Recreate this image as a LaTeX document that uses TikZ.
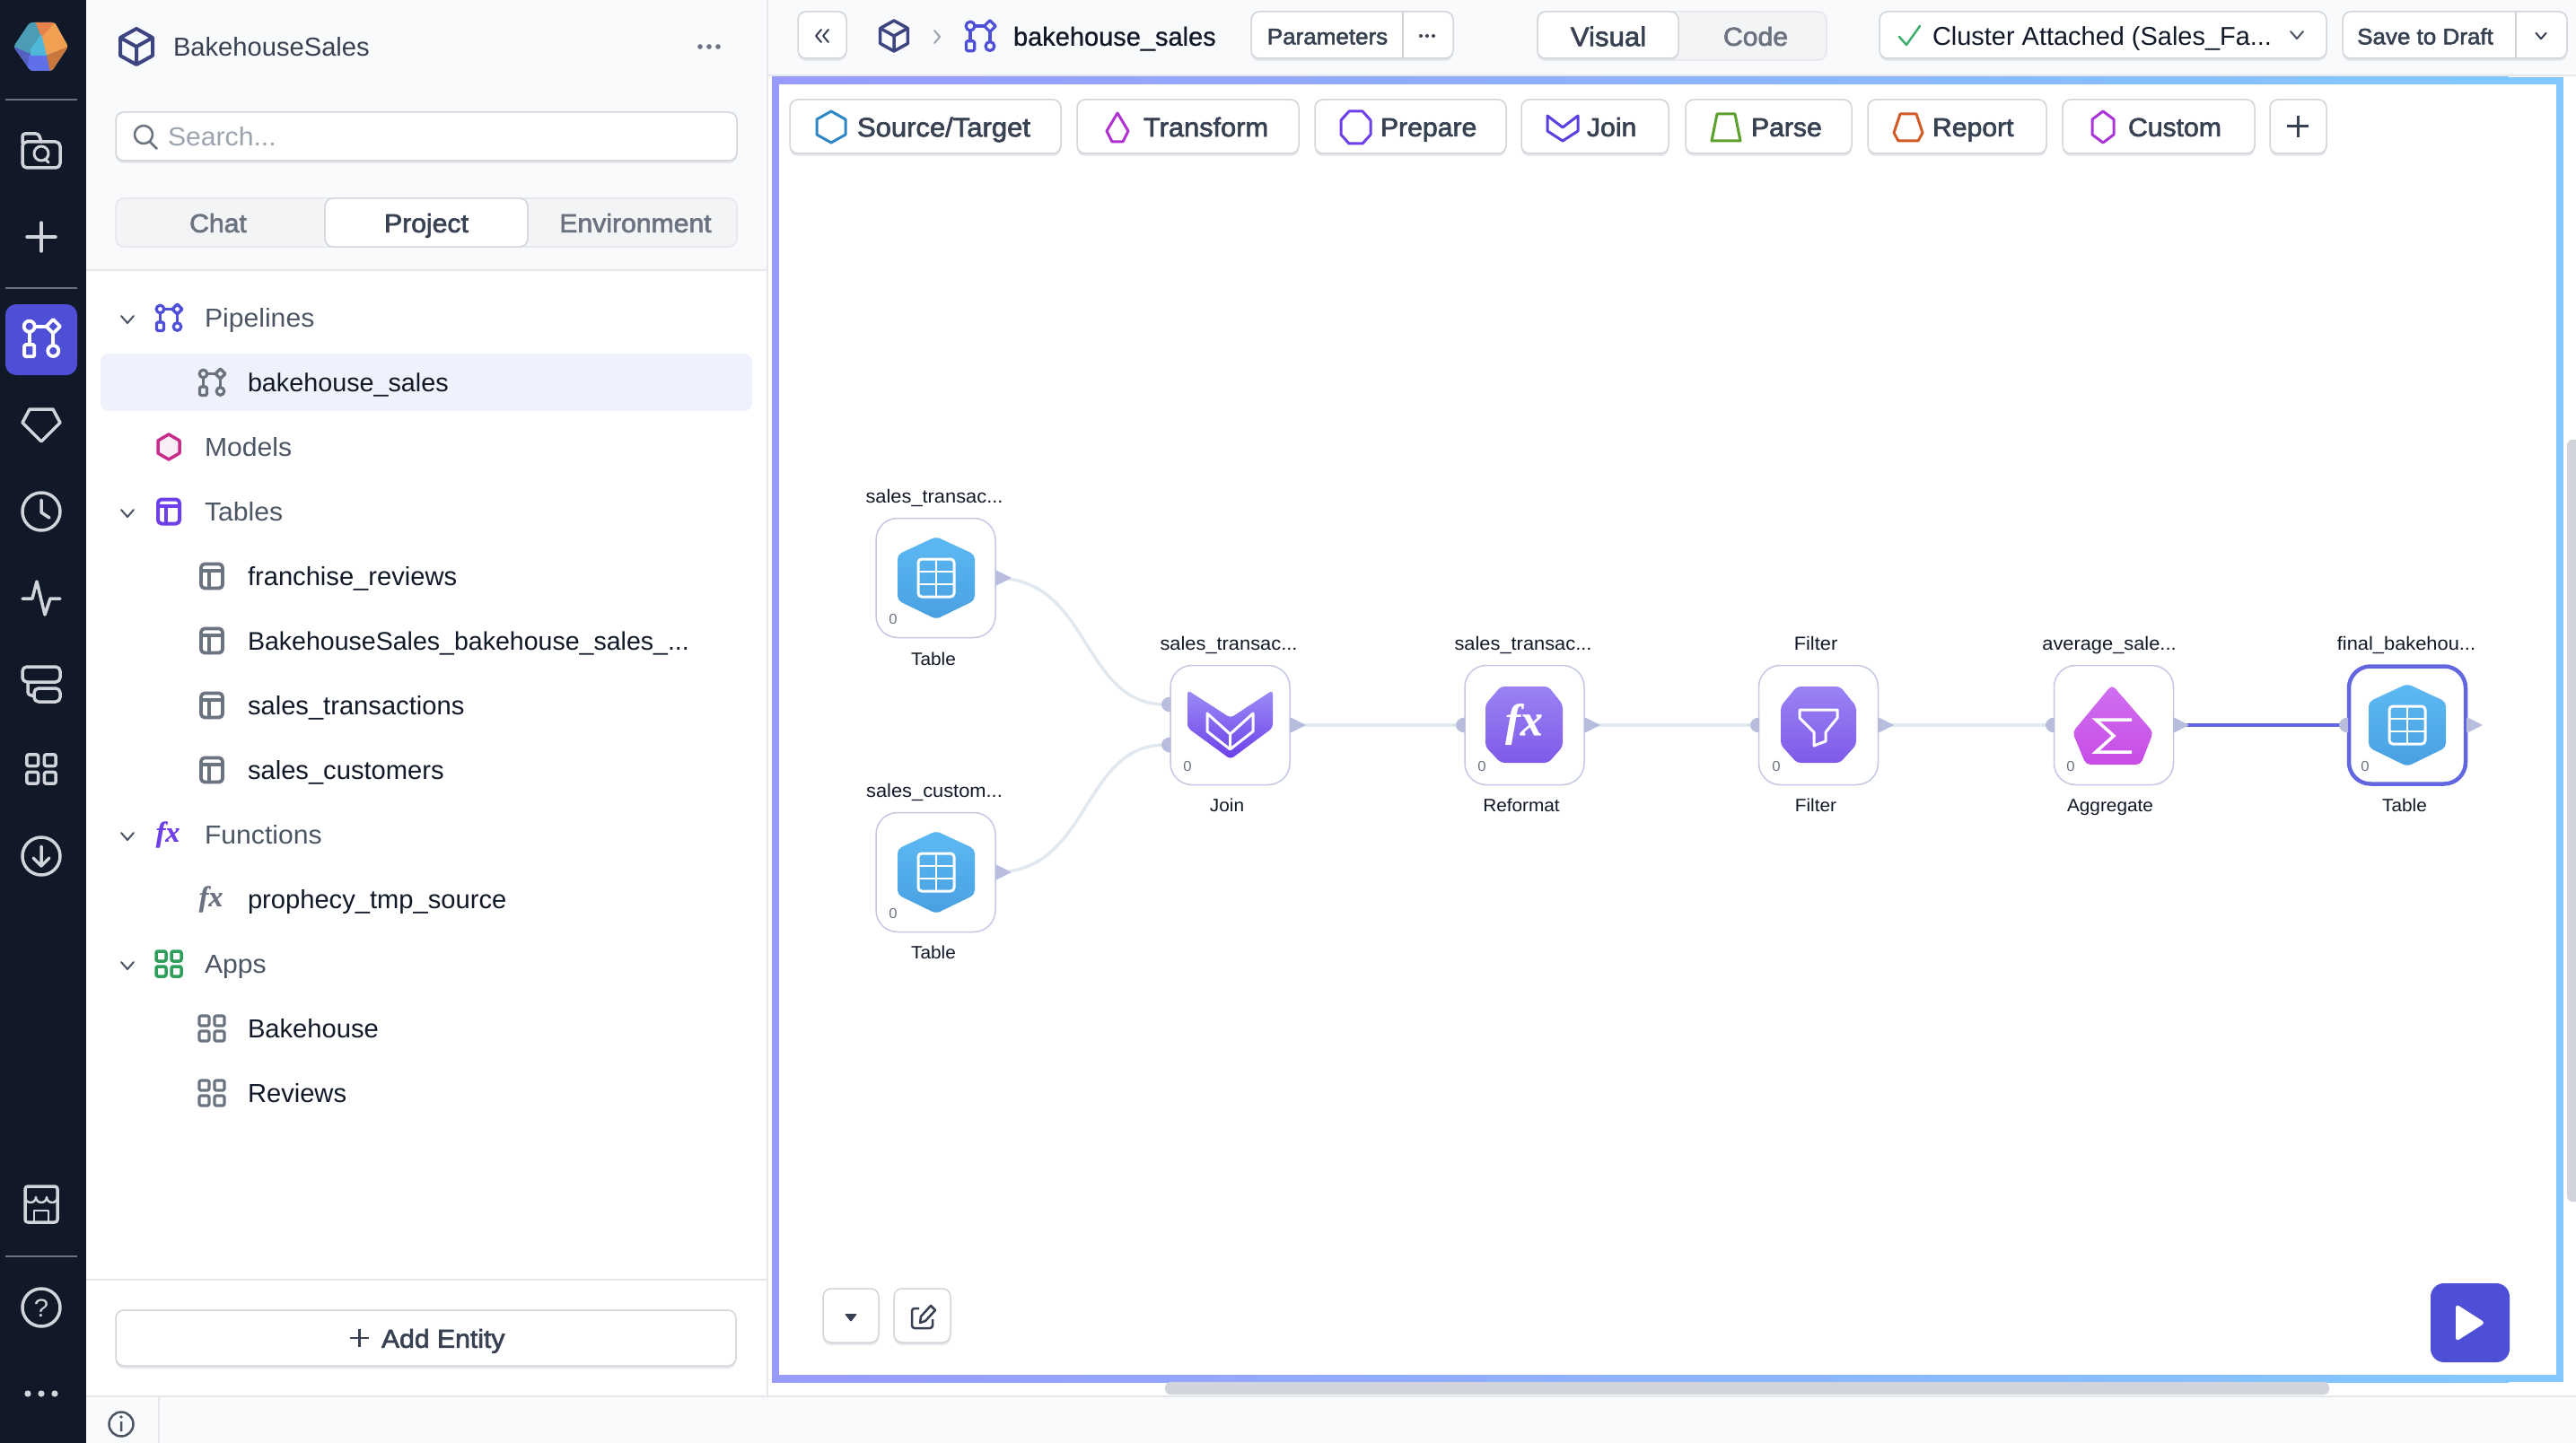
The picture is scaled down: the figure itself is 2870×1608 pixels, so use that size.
\documentclass[tikz,border=0pt]{standalone}
\usepackage{fontspec}
\setmainfont[FakeStretch=1.04]{Liberation Sans}
\newfontfamily\itemf[FakeStretch=1.005]{Liberation Sans}
\newfontfamily\itemb[FakeBold=0.8,FakeStretch=1.0]{Liberation Sans}
\newfontfamily\medf[FakeBold=2.2,FakeStretch=1.04]{Liberation Sans}
\newfontfamily\fxf[FakeBold=0.4]{Liberation Serif}
\usetikzlibrary{calc}
\newcommand{\hexc}[1]{\definecolor{#1}{HTML}{#1}}
\hexc{A08CF9}\hexc{82C8FF}\hexc{4A9DB5}\hexc{E8824A}\hexc{F0A050}\hexc{4FB8D8}\hexc{5560C0}\hexc{6070E8}\hexc{C8783C}
\hexc{9CA3AF}\hexc{F3F4F6}\hexc{EFF2FD}\hexc{C72E8C}\hexc{F9EEF6}\hexc{6D3FE8}\hexc{2E9E5B}\hexc{3DAE6B}\hexc{2F86C4}
\hexc{B030D0}\hexc{5B3FE0}\hexc{5EA02E}\hexc{D05A2A}\hexc{A835D8}\hexc{5DB9F3}\hexc{49A0E1}\hexc{9D8CF6}\hexc{6A3FE8}
\hexc{9A82F4}\hexc{7F5AE8}\hexc{D070F0}\hexc{C74CE6}
\definecolor{ink}{HTML}{111827}
\definecolor{slate}{HTML}{374151}
\definecolor{greytx}{HTML}{4B5563}
\definecolor{mutetx}{HTML}{6B7280}
\definecolor{line}{HTML}{D1D5DB}
\definecolor{hair}{HTML}{E5E7EB}
\definecolor{paper}{HTML}{F9FAFB}
\definecolor{dark}{HTML}{111827}
\definecolor{indigo}{HTML}{4F4ED6}
\definecolor{navy}{HTML}{3D4580}
\definecolor{portc}{HTML}{B8BDDD}
\definecolor{edgec}{HTML}{E2E8F0}
\definecolor{nodeline}{HTML}{C4C8E4}
\definecolor{hilite}{HTML}{6366E1}
\definecolor{sideic}{HTML}{D1D5DB}
\tikzset{
  tx/.style={inner sep=0pt,outer sep=0pt,text height=.95*#1 pt,text depth=.2*#1 pt,font=\fontsize{#1}{#1}\selectfont},
  ix/.style={inner sep=0pt,outer sep=0pt,text height=.95*#1 pt,text depth=.2*#1 pt,font=\fontsize{#1}{#1}\selectfont\itemf},
  bx/.style={inner sep=0pt,outer sep=0pt,text height=.95*#1 pt,text depth=.2*#1 pt,font=\fontsize{#1}{#1}\selectfont\itemb},
  mx/.style={inner sep=0pt,outer sep=0pt,text height=.95*#1 pt,text depth=.2*#1 pt,font=\fontsize{#1}{#1}\selectfont\medf},
  btnbody/.style={draw=line,line width=1.5pt,fill=white,rounded corners=9pt,inner sep=0pt,outer sep=0pt},
  nodebox/.style={draw=nodeline,line width=1.5pt,fill=white,rounded corners=24pt,inner sep=0pt,outer sep=0pt,minimum width=133pt,minimum height=133pt},
  edgeln/.style={draw=edgec,line width=3.5pt},
  sideln/.style={draw=sideic,line width=3.5pt,line cap=round,line join=round},
  iconln/.style={line width=3.2pt,line cap=round,line join=round},
  tool/.style={line width=3pt,line join=round,fill=white},
  pics/pipemark/.style={code={
    \draw[iconln,#1] (-9.5,-9.5) circle (4.3) (9.5,-15) -- (15,-9.5) -- (9.5,-4) -- (4,-9.5) -- cycle;
    \draw[iconln,#1,rounded corners=1.5pt] (-13.5,5) rectangle (-5.5,14.5);
    \draw[iconln,#1] (9.5,10) circle (4.3);
    \draw[iconln,#1] (-5,-9.5) -- (4,-9.5) (-9.5,-5) -- (-9.5,5) (9.5,-4) -- (9.5,5.5);
  }},
  pics/cubemark/.style={code={
    \draw[line join=round,#1] (0,-20) -- (18,-10) -- (18,10) -- (0,20) -- (-18,10) -- (-18,-10) -- cycle;
    \draw[line join=round,#1] (-18,-10) -- (0,0) -- (18,-10) (0,0) -- (0,20);
  }},
  pics/tablemark/.style={code={
    \draw[iconln,#1,rounded corners=4pt] (-12,-13.5) rectangle (12,13.5);
    \draw[iconln,#1] (-12,-6) -- (12,-6) (-3,-6) -- (-3,13.5);
  }},
  pics/appsmark/.style={code={
    \foreach \u in {-8.5,8.5}{\foreach \v in {-8.5,8.5}{
      \draw[iconln,#1,rounded corners=2pt] (\u-5.5,\v-5.5) rectangle (\u+5.5,\v+5.5);}}
  }},
  pics/chev/.style={code={\draw[line width=2pt,line cap=round,line join=round,#1] (-7,-4) -- (0,4) -- (7,-4);}},
  pics/tablehex/.style={code={
    \shade[top color=5DB9F3,bottom color=49A0E1,rounded corners=5pt] (0,-46) -- (43,-26) -- (43,25) -- (0,46) -- (-43,25) -- (-43,-26) -- cycle;
    \draw[white,line width=3pt,rounded corners=4pt] (-20,-21) rectangle (20,21);
    \draw[white,line width=2.5pt] (-20,-7) -- (20,-7) (-20,7) -- (20,7) (0,-21) -- (0,21);
  }},
}
\newcommand{\btnat}[6][btnbody]{%
  \fill[hair,rounded corners=9pt] (#3,#4+3) rectangle (#5,#6+3);
  \node[#1,minimum width={(#5-(#3))*1pt},minimum height={(#6-(#4))*1pt}] (#2) at ({(#3+#5)/2},{(#4+#6)/2}) {};}
\newcommand{\dotrow}[4]{\foreach \k in {-1,0,1}{\fill[#1] ({#2+\k*#4},#3) circle (2.8);}}
\begin{document}
\begin{tikzpicture}[x=1pt,y=-1pt]
\useasboundingbox (0,0) rectangle (2870,1608);
\fill[white] (0,0) rectangle (2870,1608);
% ---- top bar, panel header, status bar
\fill[paper] (855,0) rectangle (2870,84);
\draw[hair,line width=2pt] (855,84) -- (2870,84);
\fill[paper] (96,0) rectangle (855,300);
\draw[hair,line width=2pt] (96,301) -- (855,301);
\fill[paper] (96,1556) rectangle (2870,1608);
\draw[hair,line width=2pt] (96,1556) -- (2870,1556);
\draw[hair,line width=2pt] (177,1556) -- (177,1608);
\draw[hair,line width=2pt] (855,0) -- (855,1556);
\draw[hair,line width=2pt] (96,1426) -- (855,1426);
% ---- canvas frame
\begin{scope}
\clip (860,86) rectangle (2856,1540);
\shade[left color=A08CF9,right color=82C8FF] (215,86) rectangle (2795,1540);
\fill[82C8FF] (2790,86) rectangle (2856,1540);
\end{scope}
\fill[white] (868,94) rectangle (2848,1532);
% ---- scrollbars
\fill[line,rounded corners=6pt] (1298,1540) rectangle (2595,1554);
\fill[line,rounded corners=6pt] (2860,490) rectangle (2876,1339);
% ---- dark rail
\fill[dark] (0,0) rectangle (96,1608);
\clip (0,0) rectangle (2870,1608);
% logo
\begin{scope}
\clip[rounded corners=3pt] (33,25) -- (61,25) -- (76,52) -- (58,79) -- (34,79) -- (15,52) -- cycle;
\fill[4A9DB5] (10,20) rectangle (80,85);
\fill[E8824A] (33,20) -- (62,20) -- (62,28) -- (47,44) -- (40,26) -- cycle;
\fill[F0A050] (46,42) -- (62,24) -- (80,52) -- (50,62) -- cycle;
\fill[4FB8D8] (34,55) -- (46,38) -- (52,62) -- (50,66) -- (34,62) -- cycle;
\fill[5560C0] (10,50) -- (34,60) -- (32,85) -- (20,85) -- cycle;
\fill[6070E8] (32,62) -- (52,62) -- (58,85) -- (30,85) -- cycle;
\fill[C8783C] (52,62) -- (80,50) -- (70,85) -- (57,85) -- cycle;
\end{scope}
\draw[mutetx,line width=2pt] (6,111) -- (86,111) (6,321) -- (86,321) (6,1400) -- (86,1400);
% folder-search
\draw[sideln,rounded corners=5pt] (25,158) rectangle (67,187);
\draw[sideln,rounded corners=3pt] (25,160) -- (25,149) -- (43,149) -- (46,158);
\draw[sideln,line width=3pt] (46,171) circle (8) (50,177) -- (54,181);
% plus
\draw[sideln] (30,264) -- (62,264) (46,248) -- (46,280);
% active pipelines
\fill[indigo,rounded corners=12pt] (6,339) rectangle (86,418);
\pic[scale=1.4] at (46,377) {pipemark={draw=white,line width=3.8pt}};
% gem
\draw[sideln] (33,456) -- (59,456) -- (67,471) -- (46,492) -- (25,471) -- cycle;
% clock
\draw[sideln] (46,570) circle (21) (46,557) -- (46,571) -- (55,577);
% activity
\draw[sideln] (25,667) -- (36,667) -- (41,648) -- (50,685) -- (56,667) -- (67,667);
% display
\draw[sideln,rounded corners=5pt] (25,743) rectangle (67,760);
\draw[sideln,rounded corners=5pt] (38,767) rectangle (67,782);
\draw[sideln,rounded corners=4pt] (31,760) -- (31,775) -- (38,775);
% grid
\pic[scale=1.15] at (46,857) {appsmark={draw=sideic,line width=3.5pt}};
% download
\draw[sideln] (46,954) circle (21) (46,943) -- (46,965) (37,956) -- (46,965) -- (55,956);
% store
\draw[sideln,rounded corners=3pt] (28,1322) rectangle (64,1362);
\draw[sideln,line width=2.5pt] (28,1334) arc[start angle=180,end angle=0,radius=6] arc[start angle=180,end angle=0,radius=6] arc[start angle=180,end angle=0,radius=6];
\draw[sideln,line width=2.5pt] (38,1362) -- (38,1349) -- (54,1349) -- (54,1362);
% help
\draw[sideln] (46,1457) circle (21);
\node[tx=28,text=sideic] (helpq) at (46,1457) {?};
\foreach \k in {-1,0,1}{\fill[sideic] ({46+\k*15},1553) circle (3.6);}
% ---- panel header
\pic at (152,52) {cubemark={draw=navy,line width=4pt}};
\node[ix=29,anchor=west,text=slate] (projname) at (193,52) {BakehouseSales};
\dotrow{mutetx}{790}{52}{10}
\btnat{searchbox}{129}{125}{821}{179}
\draw[mutetx,line width=2.5pt] (160,150) circle (10) (167,158) -- (175,166);
\node[tx=29,anchor=west,text=9CA3AF] (searchtx) at (187,152) {Search...};
\node[draw=hair,line width=1.5pt,fill=F3F4F6,rounded corners=9pt,minimum width=692pt,minimum height=54pt,inner sep=0pt,outer sep=0pt] (tabs) at (475,248) {};
\node[draw=line,line width=1.5pt,fill=white,rounded corners=9pt,minimum width=226pt,minimum height=54pt,inner sep=0pt,outer sep=0pt] (tabproject) at (475,248) {};
\node[mx=29,text=mutetx] (chat) at (243,248) {Chat};
\node[mx=29,text=slate] (project) at (475,248) {Project};
\node[mx=29,text=mutetx] (env) at (708,248) {Environment};
% ---- tree
\fill[EFF2FD,rounded corners=9pt] (112,394) rectangle (838,458);
\pic at (142,356) {chev={draw=greytx}};
\pic at (142,572) {chev={draw=greytx}};
\pic at (142,932) {chev={draw=greytx}};
\pic at (142,1076) {chev={draw=greytx}};
\pic at (188,354) {pipemark={draw=indigo}};
\pic at (236,426) {pipemark={draw=mutetx}};
\draw[draw=C72E8C,fill=F9EEF6,line width=3.5pt,line join=round] (188,484) -- (200,491) -- (200,505) -- (188,512) -- (176,505) -- (176,491) -- cycle;
\pic at (188,570) {tablemark={draw=6D3FE8,line width=4pt}};
\pic at (236,642) {tablemark={draw=mutetx,line width=3.8pt}};
\pic at (236,714) {tablemark={draw=mutetx,line width=3.8pt}};
\pic at (236,786) {tablemark={draw=mutetx,line width=3.8pt}};
\pic at (236,858) {tablemark={draw=mutetx,line width=3.8pt}};
\pic at (188,1074) {appsmark={draw=2E9E5B,line width=3.5pt}};
\pic at (236,1146) {appsmark={draw=mutetx}};
\pic at (236,1218) {appsmark={draw=mutetx}};
\node[text=6D3FE8,inner sep=0pt,font=\fontsize{32}{32}\selectfont\fxf\bfseries\itshape] (fxa) at (187,930) {fx};
\node[text=mutetx,inner sep=0pt,font=\fontsize{32}{32}\selectfont\fxf\bfseries\itshape] (fxb) at (235,1002) {fx};
\node[tx=29,anchor=west,text=greytx] (tpipe) at (228,354) {Pipelines};
\node[ix=28.6,anchor=west,text=ink] (tbs) at (276,426) {bakehouse\_sales};
\node[tx=29,anchor=west,text=greytx] (tmodels) at (228,498) {Models};
\node[tx=29,anchor=west,text=greytx] (ttables) at (228,570) {Tables};
\node[ix=29,anchor=west,text=ink] (tfr) at (276,642) {franchise\_reviews};
\node[ix=28.4,anchor=west,text=ink] (tbb) at (276,714) {BakehouseSales\_bakehouse\_sales\_...};
\node[ix=29,anchor=west,text=ink] (tst) at (276,786) {sales\_transactions};
\node[ix=29,anchor=west,text=ink] (tsc) at (276,858) {sales\_customers};
\node[tx=29,anchor=west,text=greytx] (tfun) at (228,930) {Functions};
\node[ix=29,anchor=west,text=ink] (tpts) at (276,1002) {prophecy\_tmp\_source};
\node[tx=29,anchor=west,text=greytx] (tapps) at (228,1074) {Apps};
\node[ix=29,anchor=west,text=ink] (tbk) at (276,1146) {Bakehouse};
\node[ix=29,anchor=west,text=ink] (trv) at (276,1218) {Reviews};
% add entity
\btnat{addbox}{129}{1460}{820}{1522}
\draw[slate,line width=2.5pt] (390,1491) -- (411,1491) (400.5,1481) -- (400.5,1501);
\node[mx=29,anchor=west,text=slate] (addtx) at (425,1491) {Add Entity};
% info
\draw[greytx,line width=2.5pt] (135,1587) circle (13.5) (135,1584) -- (135,1595);
\fill[greytx] (135,1579) circle (1.8);
% ---- top bar content
\btnat{backbtn}{889}{13}{943}{65}
\draw[slate,line width=2pt,line cap=round,line join=round] (915,33) -- (909,40) -- (915,47) (923,33) -- (917,40) -- (923,47);
\pic[scale=.85] at (996,40) {cubemark={draw=navy,line width=3.5pt}};
\draw[9CA3AF,line width=2pt,line cap=round,line join=round] (1041,34) -- (1047,41) -- (1041,48);
\pic[scale=1.15] at (1092,40) {pipemark={draw=indigo}};
\node[bx=29,anchor=west,text=ink] (crumb) at (1129,40) {bakehouse\_sales};
\btnat{parambtn}{1394}{13}{1619}{65}
\draw[line,line width=1.5pt] (1563,13) -- (1563,65);
\node[mx=25,text=slate] (paramtx) at (1479,40) {Parameters};
\foreach \k in {-1,0,1}{\fill[slate] ({1590+\k*7},40) circle (2);}
\node[draw=hair,line width=1.5pt,fill=F3F4F6,rounded corners=9pt,minimum width=322pt,minimum height=54pt,inner sep=0pt,outer sep=0pt] (segbar) at (1874,40) {};
\btnat{visualbtn}{1713}{13}{1870}{65}
\node[mx=30,text=slate] (visualtx) at (1792,40) {Visual};
\node[mx=29,text=mutetx] (codetx) at (1956,40) {Code};
\btnat{clusterbtn}{2094}{13}{2592}{65}
\draw[3DAE6B,line width=2.5pt,line cap=round,line join=round] (2116,41) -- (2124,50) -- (2139,29);
\node[ix=28.8,anchor=west,text=ink] (clustertx) at (2153,40) {Cluster Attached (Sales\_Fa...};
\pic at (2559,39) {chev={draw=greytx}};
\btnat{savebtn}{2610}{13}{2860}{65}
\draw[line,line width=1.5pt] (2803,13) -- (2803,65);
\node[mx=25,text=slate] (savetx) at (2702,40) {Save to Draft};
\pic[scale=.8] at (2831,40) {chev={draw=slate}};
% ---- palette
\btnat{psrc}{880}{111}{1182}{171}
\draw[tool,draw=2F86C4] (926,124) -- (942,133) -- (942,150) -- (926,159) -- (910,150) -- (910,133) -- cycle;
\node[mx=29.8,anchor=west,text=slate] (psrctx) at (955,141) {Source/Target};
\btnat{ptrn}{1200}{111}{1447}{171}
\draw[tool,draw=B030D0] (1245,126) -- (1257,146) -- (1251,158) -- (1239,158) -- (1233,146) -- cycle;
\node[mx=29.6,anchor=west,text=slate] (ptrntx) at (1274,141) {Transform};
\btnat{pprp}{1465}{111}{1678}{171}
\draw[tool,draw=6D3FE8] (1503,124) -- (1518,124) -- (1527,134) -- (1527,150) -- (1518,160) -- (1503,160) -- (1494,150) -- (1494,134) -- cycle;
\node[mx=29,anchor=west,text=slate] (pprptx) at (1538,141) {Prepare};
\btnat{pjoin}{1695}{111}{1859}{171}
\draw[tool,draw=5B3FE0] (1724,129) -- (1741,142) -- (1758,129) -- (1758,146) -- (1741,157) -- (1724,146) -- cycle;
\node[mx=29,anchor=west,text=slate] (pjointx) at (1768,141) {Join};
\btnat{ppar}{1878}{111}{2063}{171}
\draw[tool,draw=5EA02E] (1913,127) -- (1933,127) -- (1939,157) -- (1907,157) -- cycle;
\node[mx=29,anchor=west,text=slate] (ppartx) at (1951,141) {Parse};
\btnat{prep}{2081}{111}{2280}{171}
\draw[tool,draw=D05A2A] (2117,127) -- (2135,127) -- (2142,148) -- (2137,157) -- (2115,157) -- (2110,148) -- cycle;
\node[mx=29,anchor=west,text=slate] (preptx) at (2153,141) {Report};
\btnat{pcus}{2298}{111}{2512}{171}
\draw[tool,draw=A835D8] (2343,124) -- (2355,133) -- (2355,150) -- (2343,159) -- (2331,150) -- (2331,133) -- cycle;
\node[mx=29,anchor=west,text=slate] (pcustx) at (2371,141) {Custom};
\btnat{pplus}{2529}{111}{2592}{171}
\draw[slate,line width=3pt] (2548,141) -- (2572,141) (2560,129) -- (2560,153);
% ---- canvas buttons
\btnat{downbtn}{917}{1436}{979}{1496}
\fill[slate,rounded corners=1pt] (941,1464) -- (955,1464) -- (948,1473) -- cycle;
\btnat{editbtn}{996}{1436}{1059}{1496}
\draw[slate,line width=2.5pt,rounded corners=3pt] (1024,1458) -- (1016,1458) -- (1016,1480) -- (1039,1480) -- (1039,1470);
\draw[slate,line width=2.5pt,line join=round] (1025,1474) -- (1026,1467) -- (1037,1455) -- (1042,1460) -- (1031,1472) -- cycle;
\fill[indigo,rounded corners=15pt] (2708,1430) rectangle (2796,1518);
\fill[white,rounded corners=4pt] (2736,1453) -- (2769,1474) -- (2736,1495) -- cycle;
% ---- pipeline nodes
\node[nodebox] (t1) at (1042.5,644) {};
\node[nodebox] (t2) at (1042.5,972) {};
\node[nodebox] (join) at (1370.5,808) {};
\node[nodebox] (refm) at (1698.5,808) {};
\node[nodebox] (filt) at (2026,808) {};
\node[nodebox] (aggr) at (2355,808) {};
\node[nodebox,draw=hilite,line width=4.5pt,minimum width=130pt,minimum height=131pt] (tout) at (2682,808) {};
% connectors
\coordinate (jin1) at (1298,785);
\coordinate (jin2) at (1298,830);
\draw[edgeln] (t1.east) .. controls (1215,644) and (1205,785) .. (jin1);
\draw[edgeln] (t2.east) .. controls (1215,972) and (1205,830) .. (jin2);
\draw[edgeln] (join.east) -- (refm.west);
\draw[edgeln] (refm.east) -- (filt.west);
\draw[edgeln] (filt.east) -- (aggr.west);
\draw[hilite,line width=3.5pt] (aggr.east) -- (tout.west);
% ports
\foreach \px/\py in {1109/644,1109/972,1437/808,1765/808,2092/808,2421/808,2748/808}{
  \fill[portc,rounded corners=1pt] (\px,\py-9) -- (\px+18,\py) -- (\px,\py+9) -- cycle;}
\foreach \px/\py in {1304/785,1304/830,1632/808,1960/808,2289/808,2616/808}{
  \fill[portc] (\px,\py+8.5) arc[start angle=90,end angle=270,x radius=10,y radius=8.5] -- cycle;}
% node glyphs
\pic at (1043,644) {tablehex};
\pic at (1043,972) {tablehex};
\pic at (2682,808) {tablehex};
\shade[top color=9D8CF6,bottom color=6A3FE8,rounded corners=4pt] (1323,769) -- (1371,800) -- (1418,769) -- (1418,811) -- (1371,846) -- (1323,811) -- cycle;
\draw[white,line width=3pt,line join=round] (1345,795) -- (1370.5,818) -- (1396,795) -- (1396,815) -- (1370.5,835) -- (1345,815) -- cycle (1370.5,818) -- (1370.5,835);
\shade[top color=9A82F4,bottom color=7F5AE8,rounded corners=4pt] (1672,765) -- (1725,765) -- (1741,785) -- (1741,832) -- (1725,850) -- (1672,850) -- (1655,832) -- (1655,785) -- cycle;
\node[text=white,inner sep=0pt,font=\fontsize{50}{50}\selectfont\fxf\bfseries\itshape] (fxc) at (1698,807) {fx};
\shade[top color=9A82F4,bottom color=7F5AE8,rounded corners=4pt] (2002,765) -- (2050,765) -- (2068,787) -- (2068,830) -- (2050,850) -- (2002,850) -- (1984,830) -- (1984,787) -- cycle;
\draw[white,line width=3pt,line join=round] (2005,791) -- (2047,791) -- (2047,800) -- (2034,816) -- (2034,826) -- (2021,831) -- (2021,816) -- (2005,800) -- cycle;
\shade[top color=D070F0,bottom color=C74CE6,rounded corners=5pt] (2353,763) -- (2399,816) -- (2385,852) -- (2324,852) -- (2309,816) -- cycle;
\draw[white,line width=3.5pt,line join=miter] (2375,802) -- (2335,802) -- (2355,820) -- (2335,838) -- (2375,838);
% zero counts
\foreach \zn/\zx/\zy in {za/995/689,zb/995/1017,zc/1323/853,zd/1651/853,ze/1979/853,zf/2307/853,zg/2635/853}{
  \node[tx=16,text=mutetx] (\zn) at (\zx,\zy) {0};}
% node titles and labels
\node[tx=21,text=ink] (lt1) at (1041,553) {sales\_transac...};
\node[tx=21,text=ink] (lt2) at (1041,881) {sales\_custom...};
\node[tx=21,text=ink] (ljn) at (1369,717) {sales\_transac...};
\node[tx=21,text=ink] (lrf) at (1697,717) {sales\_transac...};
\node[tx=21,text=ink] (lfl) at (2023,717) {Filter};
\node[tx=21,text=ink] (lag) at (2350,717) {average\_sale...};
\node[tx=21,text=ink] (lto) at (2681,717) {final\_bakehou...};
\node[tx=20,text=ink] (bt1) at (1040,734) {Table};
\node[tx=20,text=ink] (bt2) at (1040,1061) {Table};
\node[tx=20,text=ink] (bjn) at (1367,897) {Join};
\node[tx=20,text=ink] (brf) at (1695,897) {Reformat};
\node[tx=20,text=ink] (bfl) at (2023,897) {Filter};
\node[tx=20,text=ink] (bag) at (2351,897) {Aggregate};
\node[tx=20,text=ink] (bto) at (2679,897) {Table};
\end{tikzpicture}
\end{document}
